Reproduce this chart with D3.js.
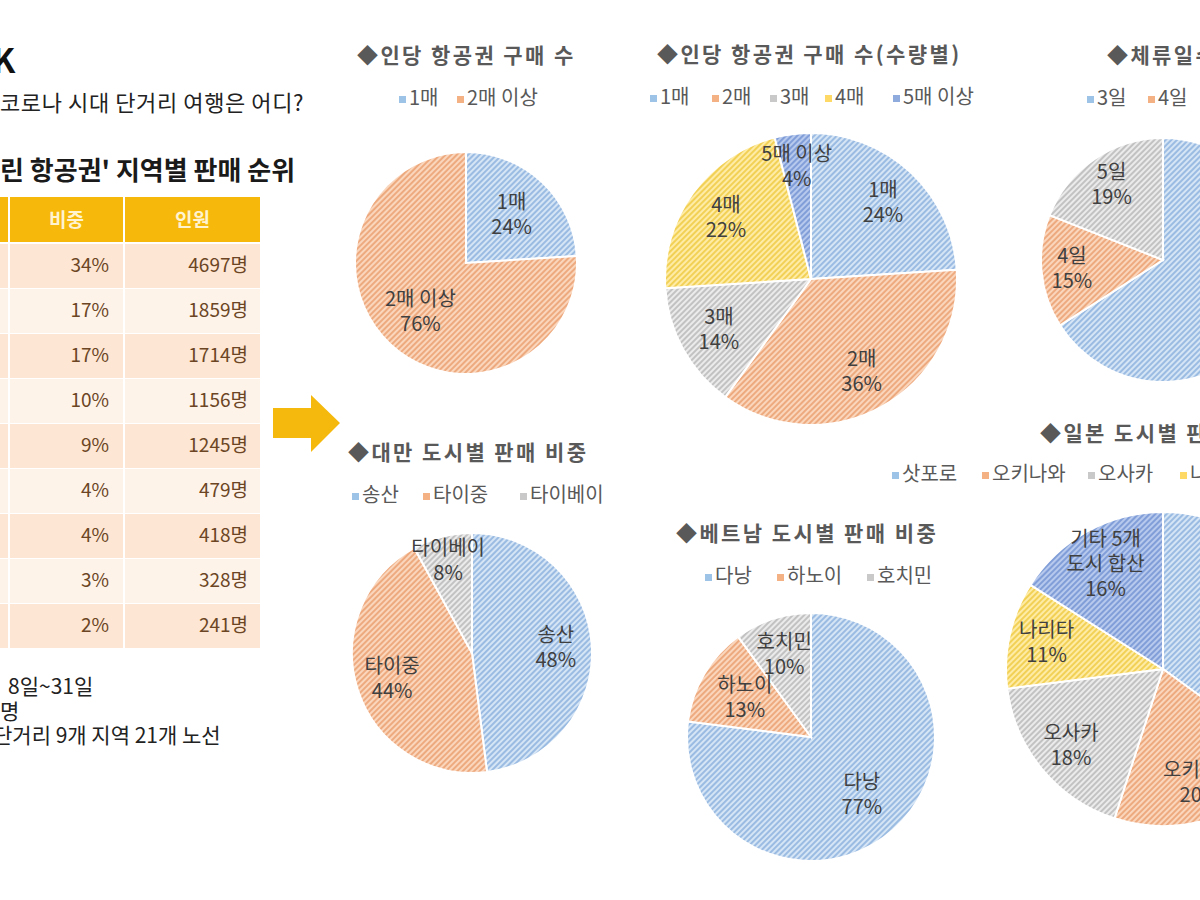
<!DOCTYPE html>
<html>
<head>
<meta charset="utf-8">
<script src="https://cdn.jsdelivr.net/npm/d3@7"></script>
<style>
  body { margin: 0; background: #fff; }
  svg { display: block; overflow: hidden; font-family: "Noto Sans CJK KR", "Noto Sans", sans-serif; }
</style>
</head>
<body>
<svg id="chart" width="1200" height="900"></svg>
<script>
// Table data (region names are cut off in the reference)
const tableHeaders = ["비중", "인원"];
const shares = [34, 17, 17, 10, 9, 4, 4, 3, 2];
const people = [4697, 1859, 1714, 1156, 1245, 479, 418, 328, 241];

// Pie chart data
const ticketCats = ["1매", "2매 이상"];
const ticketVals = [24, 76];

const qtyCats = ["1매", "2매", "3매", "4매", "5매 이상"];
const qtyVals = [24, 36, 14, 22, 4];

const stayCats = ["3일", "4일", "5일"];
const stayVals = [66, 15, 19];

const taiwanCats = ["송산", "타이중", "타이베이"];
const taiwanVals = [48, 44, 8];

const vietnamCats = ["다낭", "하노이", "호치민"];
const vietnamVals = [77, 13, 10];

const japanCats = ["삿포로", "오키나와", "오사카", "나리타", "기타 5개 도시 합산"];
const japanVals = [35, 20, 18, 11, 16];

const svg = d3.select("#chart");

// hatched fills, like the excel "wide upward diagonal" pattern
const palette = [
  { id: "blue", light: "#d5e5f5", dark: "#8cb1de", solid: "#9dc3e6" },
  { id: "orange", light: "#fad6bd", dark: "#eb9f6f", solid: "#f4b183" },
  { id: "gray", light: "#ebebeb", dark: "#b8b8b8", solid: "#c9c9c9" },
  { id: "yellow", light: "#feeca6", dark: "#f0ca42", solid: "#ffd966" },
  { id: "navy", light: "#b7c9ed", dark: "#7393d3", solid: "#8faadc" }
];

const defs = svg.append("defs");
palette.forEach((p) => {
  const pat = defs.append("pattern")
    .attr("id", "hatch-" + p.id)
    .attr("patternUnits", "userSpaceOnUse")
    .attr("width", 4)
    .attr("height", 4)
    .attr("patternTransform", "rotate(45)");
  pat.append("rect").attr("width", 4).attr("height", 4).attr("fill", p.light);
  pat.append("line")
    .attr("x1", 1).attr("y1", 0).attr("x2", 1).attr("y2", 4)
    .attr("stroke", p.dark).attr("stroke-width", 1.6);
});

svg.append("rect").attr("width", 1200).attr("height", 900).attr("fill", "#fff");

// ---------- left side text ----------
svg.append("text").attr("x", -8).attr("y", 73)
  .attr("font-size", 34).attr("font-weight", 700).attr("fill", "#111").text("K");

svg.append("text").attr("x", 0).attr("y", 111)
  .attr("font-size", 22).attr("letter-spacing", 0.6).attr("fill", "#222")
  .text("코로나 시대 단거리 여행은 어디?");

svg.append("text").attr("x", 0).attr("y", 180)
  .attr("font-size", 26).attr("font-weight", 600).attr("fill", "#1a1a1a")
  .text("린 항공권' 지역별 판매 순위");

// ---------- table ----------
const rowScale = d3.scaleBand().domain(d3.range(shares.length)).range([243, 648]);
const colX = [[-40, 8], [10, 123], [125, 260]];

const header = svg.append("g");
colX.forEach((c) => {
  header.append("rect").attr("x", c[0]).attr("y", 197)
    .attr("width", c[1] - c[0]).attr("height", 45).attr("fill", "#f6b80a");
});
tableHeaders.forEach((h, i) => {
  header.append("text")
    .attr("x", (colX[i + 1][0] + colX[i + 1][1]) / 2).attr("y", 227)
    .attr("text-anchor", "middle").attr("font-size", 19).attr("font-weight", 700)
    .attr("fill", "#fff3d0").text(h);
});

const rows = svg.selectAll(".trow").data(shares).enter().append("g").attr("class", "trow");
colX.forEach((c) => {
  rows.append("rect")
    .attr("x", c[0]).attr("y", (d, i) => rowScale(i) + 1)
    .attr("width", c[1] - c[0]).attr("height", rowScale.bandwidth() - 1)
    .attr("fill", (d, i) => i % 2 === 0 ? "#fde6d3" : "#fef3e9");
});
rows.append("text")
  .attr("x", 109).attr("y", (d, i) => rowScale(i) + 29)
  .attr("text-anchor", "end").attr("font-size", 19).attr("fill", "#6b4524")
  .text((d) => d + "%");
rows.append("text")
  .attr("x", 248).attr("y", (d, i) => rowScale(i) + 29)
  .attr("text-anchor", "end").attr("font-size", 19).attr("fill", "#6b4524")
  .text((d, i) => people[i] + "명");

// footnotes
svg.append("text").attr("x", 8).attr("y", 694).attr("font-size", 21).attr("fill", "#222").text("8일~31일");
svg.append("text").attr("x", 0).attr("y", 719).attr("font-size", 21).attr("fill", "#222").text("명");
svg.append("text").attr("x", -7).attr("y", 743).attr("font-size", 21).attr("fill", "#222").text("단거리 9개 지역 21개 노선");

// arrow
svg.append("path")
  .attr("d", "M273,408 L311,408 L311,395 L340,423 L311,452 L311,438 L273,438 Z")
  .attr("fill", "#f5b90e");

// ---------- pie charts ----------
function labelLines(name) {
  // long names wrap at the second space
  const parts = name.split(" ");
  if (parts.length > 2) return [parts.slice(0, 2).join(" "), parts.slice(2).join(" ")];
  return [name];
}

function drawPie(opts) {
  const g = svg.append("g");

  // title
  g.append("text")
    .attr("x", opts.titleX).attr("y", opts.titleY)
    .attr("font-size", 21).attr("font-weight", 700)
    .attr("letter-spacing", 2.4).attr("fill", "#595959")
    .text(opts.title);

  // legend
  opts.cats.forEach((c, i) => {
    const lx = opts.legendXs[i] !== undefined ? opts.legendXs[i] : 2000;
    g.append("rect")
      .attr("x", lx).attr("y", opts.legendY - 9)
      .attr("width", 7).attr("height", 7)
      .attr("fill", palette[i].solid);
    g.append("text")
      .attr("x", lx + 10).attr("y", opts.legendY)
      .attr("font-size", 20).attr("fill", "#595959")
      .text(c);
  });

  const pie = d3.pie().sort(null).value((d) => d.value);
  const arcs = pie(opts.cats.map((c, i) => ({ name: c, value: opts.vals[i], idx: i })));
  const arc = d3.arc().innerRadius(0).outerRadius(opts.r);
  const labelArc = d3.arc().innerRadius(opts.r * opts.lf).outerRadius(opts.r * opts.lf);

  const pg = g.append("g").attr("transform", `translate(${opts.cx},${opts.cy})`);
  pg.selectAll("path").data(arcs).enter().append("path")
    .attr("d", arc)
    .attr("fill", (d) => `url(#hatch-${palette[d.data.idx].id})`)
    .attr("stroke", "#fff").attr("stroke-width", 2);

  const lab = pg.selectAll(".lab").data(arcs).enter().append("text")
    .attr("class", "lab")
    .attr("text-anchor", "middle").attr("font-size", 20).attr("fill", "#404040")
    .attr("transform", (d) => {
      const f = opts.labelFactor && opts.labelFactor[d.data.idx];
      const p = f ? d3.arc().innerRadius(opts.r * f).outerRadius(opts.r * f).centroid(d) : labelArc.centroid(d);
      return `translate(${p[0]},${p[1]})`;
    });
  lab.each(function (d) {
    const lines = labelLines(d.data.name).concat([d.data.value + "%"]);
    const t = d3.select(this);
    const lh = 25;
    lines.forEach((s, k) => {
      t.append("tspan").attr("x", 0)
        .attr("y", (k - (lines.length - 1) / 2) * lh + 7)
        .text(s);
    });
  });
}

drawPie({ title: "◆인당 항공권 구매 수", titleX: 357, titleY: 63,
  cats: ticketCats, vals: ticketVals, legendXs: [399, 457], legendY: 105,
  cx: 466, cy: 263, r: 111, lf: 0.6 });

drawPie({ title: "◆인당 항공권 구매 수(수량별)", titleX: 657, titleY: 62,
  cats: qtyCats, vals: qtyVals, legendXs: [650, 712, 770, 825, 893], legendY: 104,
  cx: 811, cy: 279, r: 146, lf: 0.72, labelFactor: { 4: 0.78 } });

drawPie({ title: "◆체류일수별 비중", titleX: 1107, titleY: 63,
  cats: stayCats, vals: stayVals, legendXs: [1087, 1148, 1208], legendY: 105,
  cx: 1163, cy: 260, r: 122, lf: 0.75 });

drawPie({ title: "◆대만 도시별 판매 비중", titleX: 348, titleY: 460,
  cats: taiwanCats, vals: taiwanVals, legendXs: [352, 423, 520], legendY: 502,
  cx: 472, cy: 653, r: 120, lf: 0.7, labelFactor: { 2: 0.8 } });

drawPie({ title: "◆베트남 도시별 판매 비중", titleX: 676, titleY: 541,
  cats: vietnamCats, vals: vietnamVals, legendXs: [705, 777, 867], legendY: 583,
  cx: 811, cy: 737, r: 124, lf: 0.62, labelFactor: { 2: 0.7 } });

drawPie({ title: "◆일본 도시별 판매 비중", titleX: 1040, titleY: 441,
  cats: japanCats, vals: japanVals, legendXs: [892, 982, 1088, 1180], legendY: 481,
  cx: 1163, cy: 669, r: 157, lf: 0.76 });
</script>
</body>
</html>
